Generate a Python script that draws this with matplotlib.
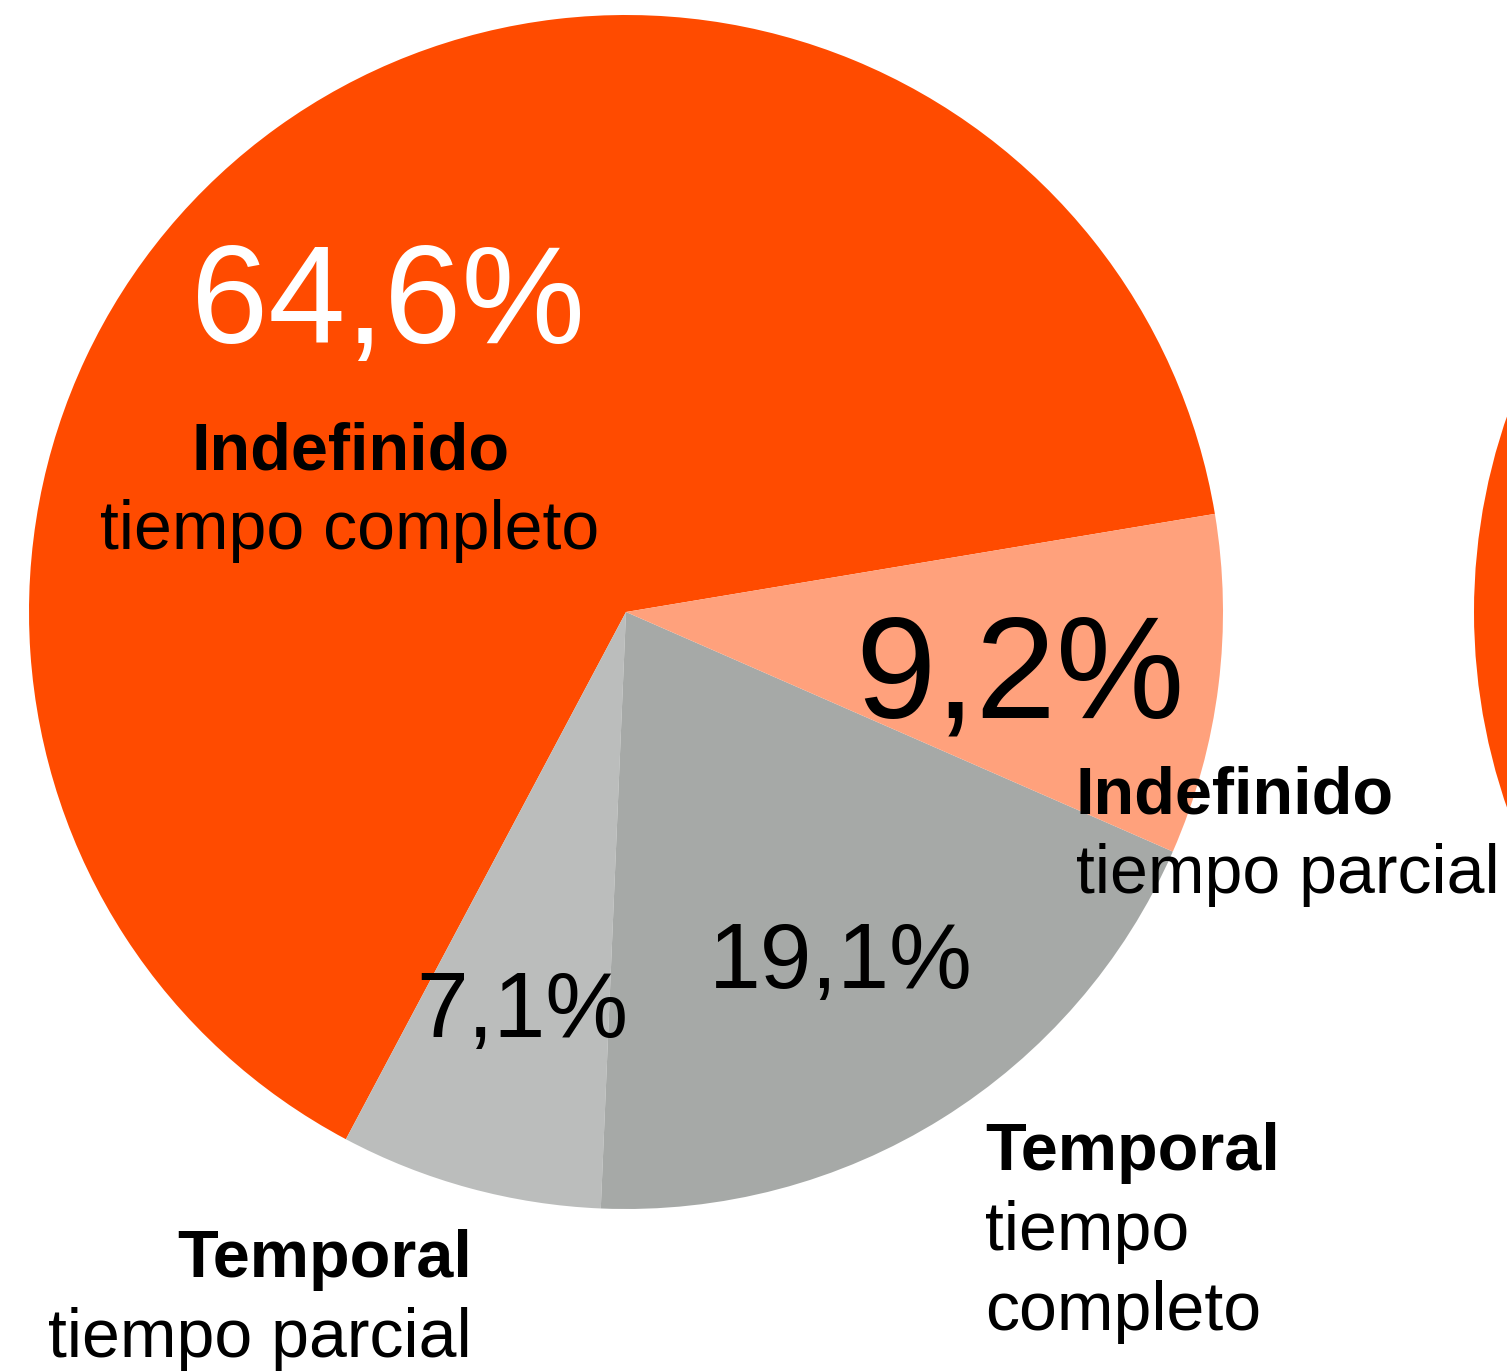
import matplotlib.pyplot as plt

# contract shares (%), drawn counterclockwise from the right
labels = ["Indefinido tiempo completo", "Temporal tiempo parcial",
          "Temporal tiempo completo", "Indefinido tiempo parcial"]
values = [64.6, 7.1, 19.1, 9.2]
colors = ["#FF4B00", "#BBBDBC", "#A6A9A7", "#FFA17C"]
pct_text = ["64,6%", "7,1%", "19,1%", "9,2%"]

# next pie, only its left edge is visible
next_values = [100]
next_colors = ["#FF4B00"]

W, H = 1507, 1372
plt.rcParams['font.family'] = ['Liberation Sans', 'DejaVu Sans']

fig = plt.figure(figsize=(W / 100, H / 100), dpi=100)
ax = fig.add_axes([0, 0, 1, 1])

ax.pie(values, colors=colors, startangle=9.46, counterclock=True,
       center=(626, H - 612), radius=597,
       wedgeprops=dict(linewidth=0, antialiased=True))
ax.pie(next_values, colors=next_colors, startangle=90,
       center=(2071, H - 612), radius=597,
       wedgeprops=dict(linewidth=0, antialiased=True))

ax.set_xlim(0, W)
ax.set_ylim(0, H)
ax.set_aspect('equal')
ax.axis('off')

# big percentages
ax.text(388, H - 343, pct_text[0], color="white", fontsize=100,
        ha='center', va='baseline')
ax.text(522, H - 1037, pct_text[1], color="black", fontsize=67,
        ha='center', va='baseline')
ax.text(841, H - 988, pct_text[2], color="black", fontsize=67,
        ha='center', va='baseline')
ax.text(1020, H - 718, pct_text[3], color="black", fontsize=104,
        ha='center', va='baseline')

# category labels
fs = 49
ax.text(351, H - 470, "Indefinido", fontsize=48, fontweight='bold',
        ha='center', va='baseline')
ax.text(350, H - 549, "tiempo completo", fontsize=fs,
        ha='center', va='baseline')

ax.text(1076, H - 813, "Indefinido", fontsize=48, fontweight='bold',
        ha='left', va='baseline')
ax.text(1076, H - 893, "tiempo parcial", fontsize=fs,
        ha='left', va='baseline')

ax.text(985, H - 1170, "Temporal", fontsize=48, fontweight='bold',
        ha='left', va='baseline')
ax.text(985, H - 1250, "tiempo", fontsize=fs, ha='left', va='baseline')
ax.text(985, H - 1330, "completo", fontsize=fs, ha='left', va='baseline')

ax.text(472, H - 1277, "Temporal", fontsize=48, fontweight='bold',
        ha='right', va='baseline')
ax.text(472, H - 1357, "tiempo parcial", fontsize=fs,
        ha='right', va='baseline')

fig.savefig("out.png", dpi=100)
